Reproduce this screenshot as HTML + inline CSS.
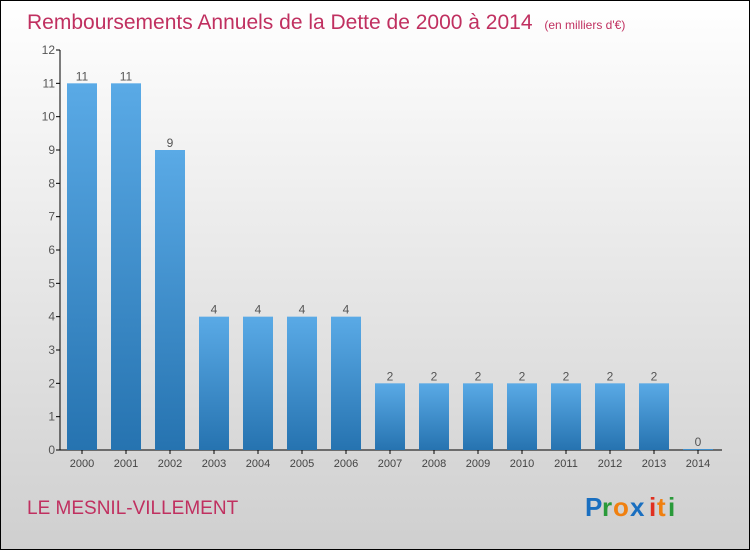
<!DOCTYPE html>
<html><head><meta charset="utf-8"><style>
body{margin:0}
#c{width:748px;height:548px;border:1px solid #000;background:linear-gradient(#fff,#cfcfcf);position:relative;font-family:"Liberation Sans",sans-serif}
</style></head><body>
<div id="c">
<svg width="748" height="548" id="s">
<defs><linearGradient id="g" x1="0" y1="0" x2="0" y2="1"><stop offset="0" stop-color="#5aaae6"/><stop offset="1" stop-color="#2673b0"/></linearGradient></defs>
<text x="26" y="28" font-size="21" fill="#c03060">Remboursements Annuels de la Dette de 2000 à 2014 <tspan font-size="12" dx="6">(en milliers d'€)</tspan></text>
<text x="26" y="513" font-size="19" fill="#c03060">LE MESNIL-VILLEMENT</text>
<g font-size="26" font-weight="bold"><text x="584" y="515" fill="#1a6fc0">P</text><text x="601" y="515" fill="#2a9a3a">r</text><text x="612" y="515" fill="#f08010">o</text><text x="629" y="515" fill="#1a6fc0">x</text><text x="648" y="515" fill="#e03020">i</text><text x="656" y="515" fill="#f08010">t</text><text x="667" y="515" fill="#2a9a3a">i</text></g>
<g id="plot"></g>
</svg></div>
<script>
const years=["2000","2001","2002","2003","2004","2005","2006","2007","2008","2009","2010","2011","2012","2013","2014"];
const values=[11,11,9,4,4,4,4,2,2,2,2,2,2,2,0];
const ticks=[0,1,2,3,4,5,6,7,8,9,10,11,12];
const ns="http://www.w3.org/2000/svg",p=document.getElementById('plot');
const y=v=>449-v*(400/12), x=i=>81+44*i;
function mk(t,a,txt){const e=document.createElementNS(ns,t);for(const k in a)e.setAttribute(k,a[k]);if(txt!==undefined)e.textContent=txt;p.appendChild(e);return e;}
let e=mk('line',{x1:59,y1:49,x2:59,y2:449,stroke:'#000'});


e=mk('line',{x1:59,y1:449,x2:721,y2:449,stroke:'#000'});


ticks.forEach(t=>{
 e=mk('line',{x1:55,y1:y(t),x2:59,y2:y(t),stroke:'#000'});
 
 
 e=mk('text',{x:54,y:y(t)+4,'font-size':12,fill:'#555','text-anchor':'end'},t);
 
 
});
years.forEach((yr,i)=>{
 const v=values[i],h=Math.max(449-y(v),1);
 e=mk('rect',{x:x(i)-15,y:449-h,width:30,height:h,fill:'url(#g)'});
 
 
 e=mk('text',{x:x(i),y:449-h-3,'font-size':12,fill:'#555','text-anchor':'middle'},v);
 
 
 e=mk('line',{x1:x(i),y1:449,x2:x(i),y2:453,stroke:'#000'});
 
 
 e=mk('text',{x:x(i),y:466,'font-size':11,fill:'#444','text-anchor':'middle'},yr);
 
 
});
</script></body></html>
